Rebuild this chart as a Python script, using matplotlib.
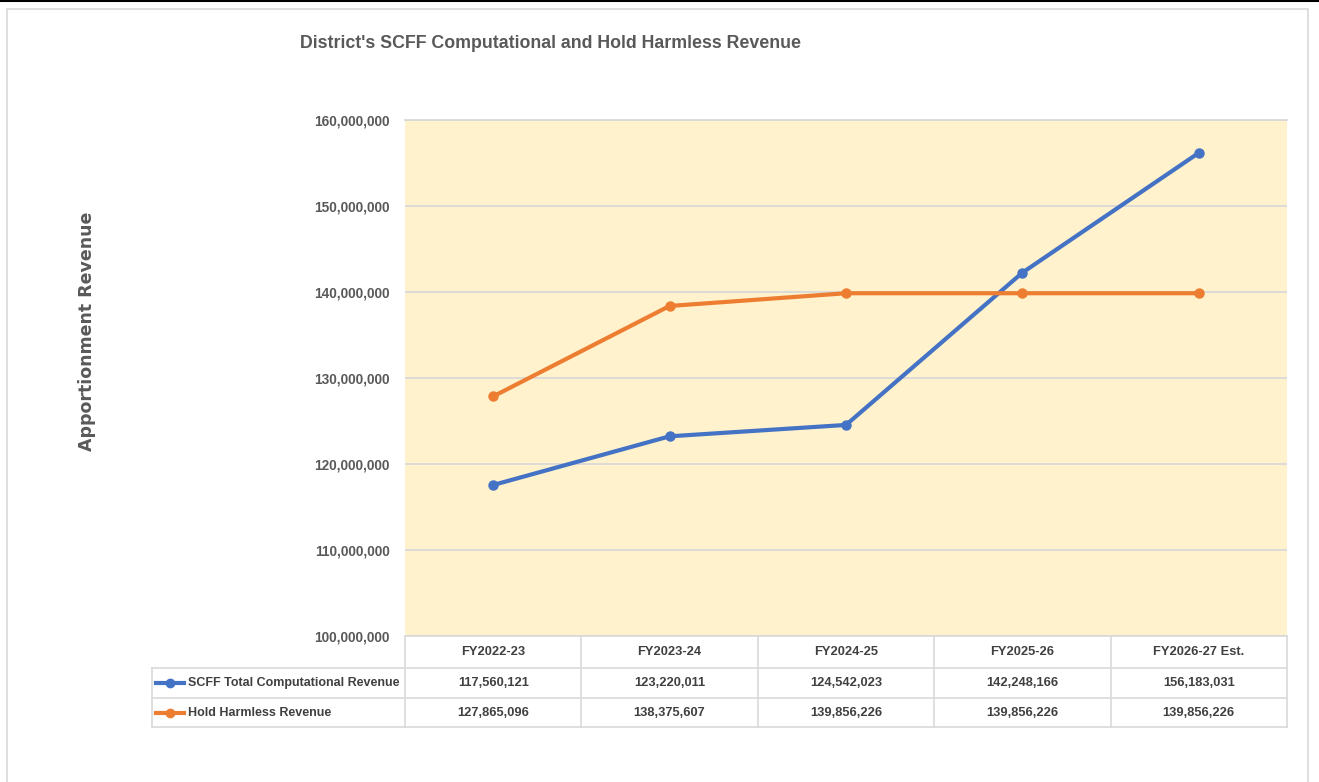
import matplotlib
matplotlib.use("Agg")
import matplotlib.pyplot as plt
from matplotlib.lines import Line2D
from matplotlib.patches import Rectangle

years = ["FY2022-23", "FY2023-24", "FY2024-25", "FY2025-26", "FY2026-27 Est."]
scff_total = [117560121, 123220011, 124542023, 142248166, 156183031]
hold_harmless = [127865096, 138375607, 139856226, 139856226, 139856226]
series_names = ["SCFF Total Computational Revenue", "Hold Harmless Revenue"]
yticks = [100000000, 110000000, 120000000, 130000000, 140000000, 150000000, 160000000]

blue = "#4472C4"
orange = "#ED7D31"
grey_txt = "#595959"
grid_c = "#D9D9D9"
narrow = ["Liberation Sans", "DejaVu Sans"]

W, H = 1319, 782
fig = plt.figure(figsize=(W / 100, H / 100), dpi=100)

# top black rule and outer chart border
fig.add_artist(Line2D([0, 1], [1 - 0.8 / H, 1 - 0.8 / H], color="black", lw=1.5))
fig.add_artist(Rectangle((7 / W, -0.05), (1308 - 7) / W, 1.05 - 9 / H,
                         fill=False, ec=grid_c, lw=1.2))

x0, x1, y0, y1 = 405, 1287, 120, 636
ax = fig.add_axes([x0 / W, 1 - y1 / H, (x1 - x0) / W, (y1 - y0) / H])
ax.set_facecolor("#FFF2CC")
ax.set_xlim(-0.5, len(years) - 0.5)
ax.set_ylim(yticks[0], yticks[-1])
ax.set_yticks(yticks)
ax.set_yticklabels([f"{v:,}" for v in yticks], fontsize=9.8, fontweight="bold",
                   color=grey_txt, family=narrow)
ax.tick_params(axis="y", length=0, pad=11)
ax.set_xticks([])
ax.grid(axis="y", color=grid_c, lw=1.3)
ax.set_axisbelow(True)
for s in ["left", "right", "bottom"]:
    ax.spines[s].set_visible(False)
ax.spines["top"].set_color(grid_c)
ax.spines["top"].set_linewidth(1.3)

xs = range(len(years))
ax.plot(xs, scff_total, color=blue, lw=3, marker="o", ms=6.5, solid_capstyle="round", zorder=3)
ax.plot(xs, hold_harmless, color=orange, lw=3, marker="o", ms=6.5, solid_capstyle="round", zorder=3)

fig.text(300 / W, 1 - 43 / H, "District's SCFF Computational and Hold Harmless Revenue",
         fontsize=12.8, fontweight="bold", color=grey_txt, family=narrow, va="center")
fig.text(87 / W, 1 - 331 / H, "Apportionment Revenue", rotation=90, fontsize=12.5,
         fontweight="bold", color=grey_txt, family="DejaVu Sans", ha="center", va="center")

# data table below the plot
ph = y1 - y0
pw = x1 - x0
rows_px = [636, 668, 698, 727]
ry = [-(r - y1) / ph for r in rows_px]
left = (152 - x0) / pw
n = len(years)
tr = ax.transAxes
kw = dict(transform=tr, color=grid_c, lw=1.2, clip_on=False)
ax.plot([0, 1], [ry[0], ry[0]], **kw)
for r in ry[1:]:
    ax.plot([left, 1], [r, r], **kw)
ax.plot([left, left], [ry[1], ry[3]], **kw)
for k in range(n + 1):
    ax.plot([k / n, k / n], [ry[0], ry[3]], **kw)

tkw = dict(transform=tr, fontsize=9.3, fontweight="bold", color="#404040",
           family=narrow, ha="center", va="center")
for k, yr in enumerate(years):
    cx = (k + 0.5) / n
    ax.text(cx, (ry[0] + ry[1]) / 2, yr, **tkw)
    ax.text(cx, (ry[1] + ry[2]) / 2, f"{scff_total[k]:,}", **tkw)
    ax.text(cx, (ry[2] + ry[3]) / 2, f"{hold_harmless[k]:,}", **tkw)

for i, (name, col) in enumerate(zip(series_names, [blue, orange])):
    cy = (ry[i + 1] + ry[i + 2]) / 2
    lx0 = (156 - x0) / pw
    lx1 = (184 - x0) / pw
    ax.plot([lx0, lx1], [cy, cy], transform=tr, color=col, lw=3, clip_on=False)
    ax.plot([(lx0 + lx1) / 2], [cy], transform=tr, color=col, marker="o", ms=6, clip_on=False)
    ax.text((188 - x0) / pw, cy, name, transform=tr, fontsize=9.0, fontweight="bold",
            color="#404040", family=narrow, ha="left", va="center")

fig.savefig("out.png", dpi=100)
